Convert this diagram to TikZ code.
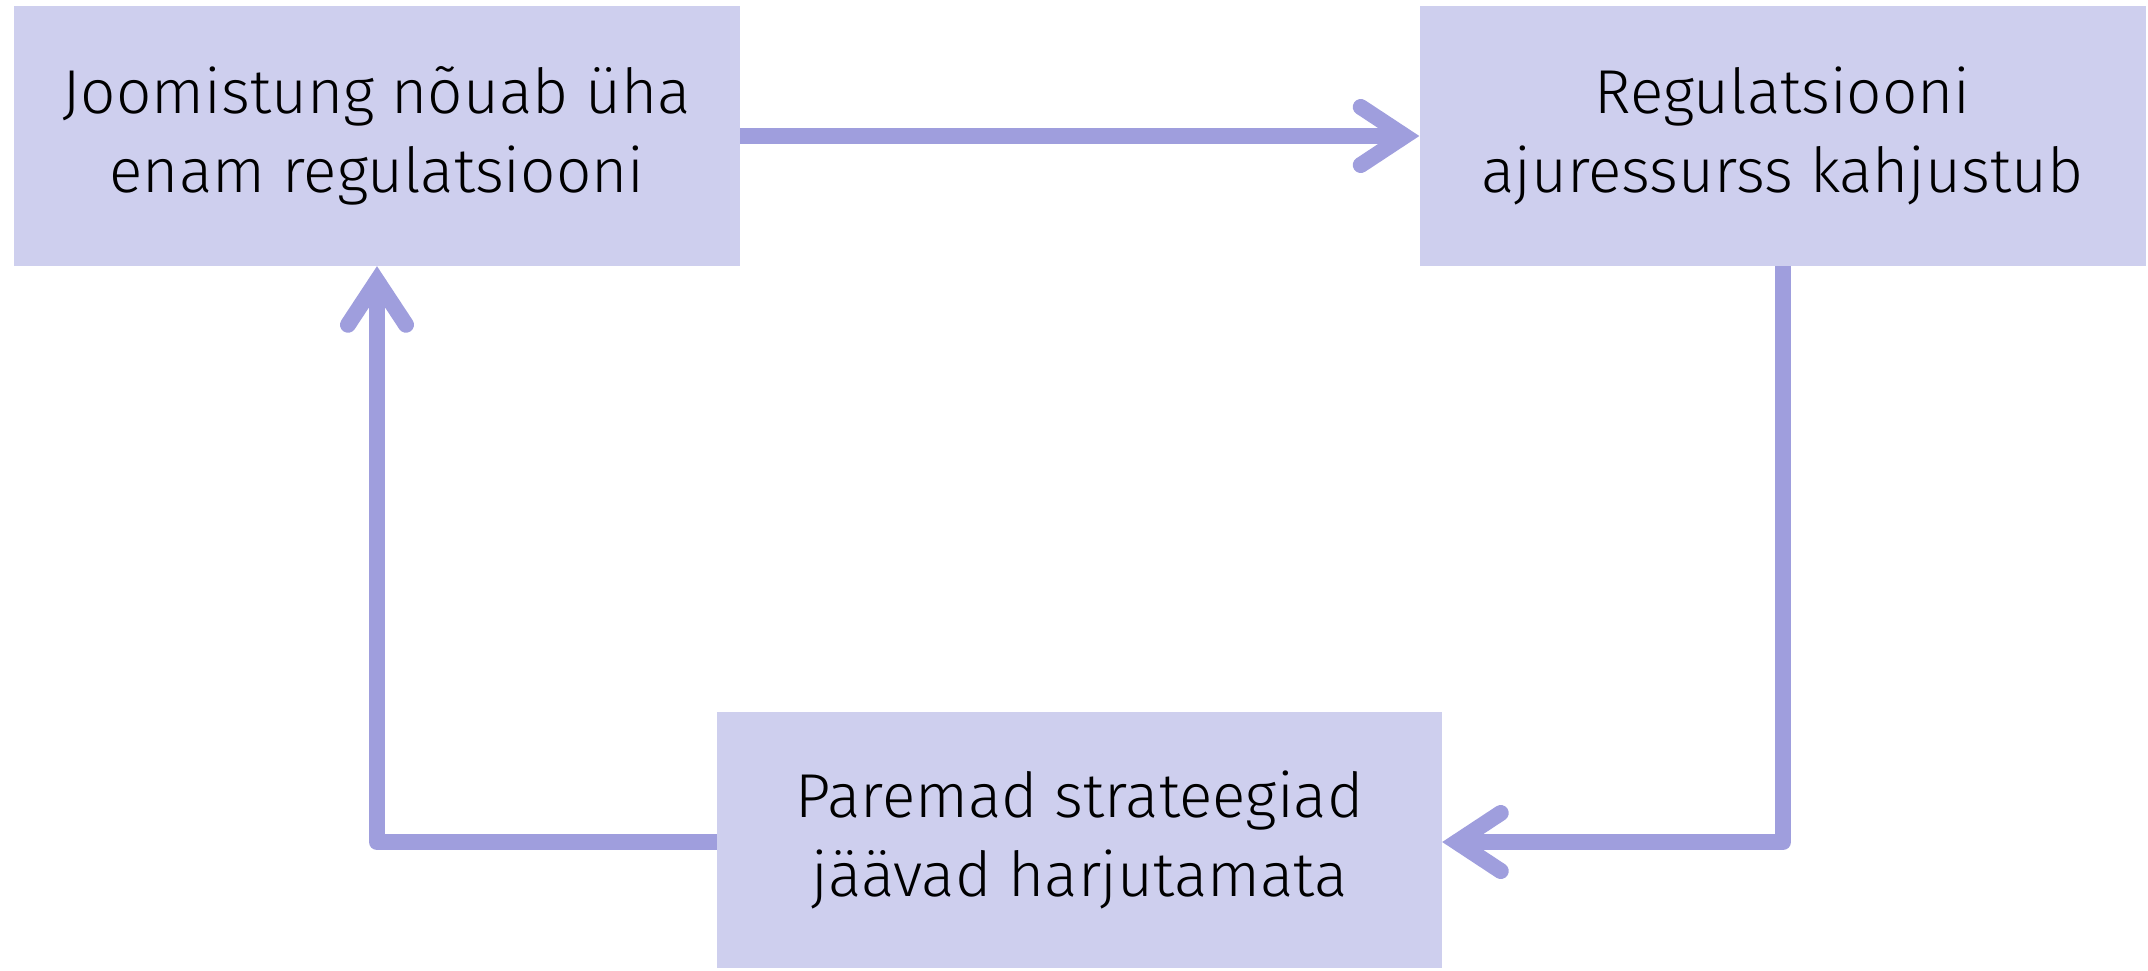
\documentclass[tikz,border=0pt]{standalone}
\usepackage{fontspec}
\setmainfont{Fira Sans Light}
\usetikzlibrary{arrows.meta}
\definecolor{boxfill}{RGB}{206,207,238}
\definecolor{linecol}{RGB}{159,158,221}
\begin{document}
\begin{tikzpicture}[x=1pt,y=1pt,
  box/.style={fill=boxfill, draw=none, minimum width=726pt, minimum height=260pt, inner sep=0pt, align=center, font=\fontsize{62}{79}\selectfont, text=black},
  conn/.style={draw=linecol, line width=16pt, line join=round, -{Straight Barb[length=44pt, width=58pt, line cap=round, line join=miter]}}]
\useasboundingbox (0,0) rectangle (2148,-970);
\node[box] (a) at (377,-136) {Joomistung nõuab üha\\enam regulatsiooni};
\node[box] (b) at (1782.5,-136) {Regulatsiooni\\ajuressurss kahjustub};
\node[box, minimum width=725pt, minimum height=256pt] (c) at (1079.5,-840) {Paremad strateegiad\\jäävad harjutamata};
\coordinate (rc) at (1783,-842);
\coordinate (lc) at (377,-842);
\draw[conn] (a.east) -- (b.west);
\draw[conn] (b.south -| rc) -- (rc) -- (c.east |- rc);
\draw[conn] (c.west |- lc) -- (lc) -- (a.south -| lc);
\end{tikzpicture}
\end{document}
